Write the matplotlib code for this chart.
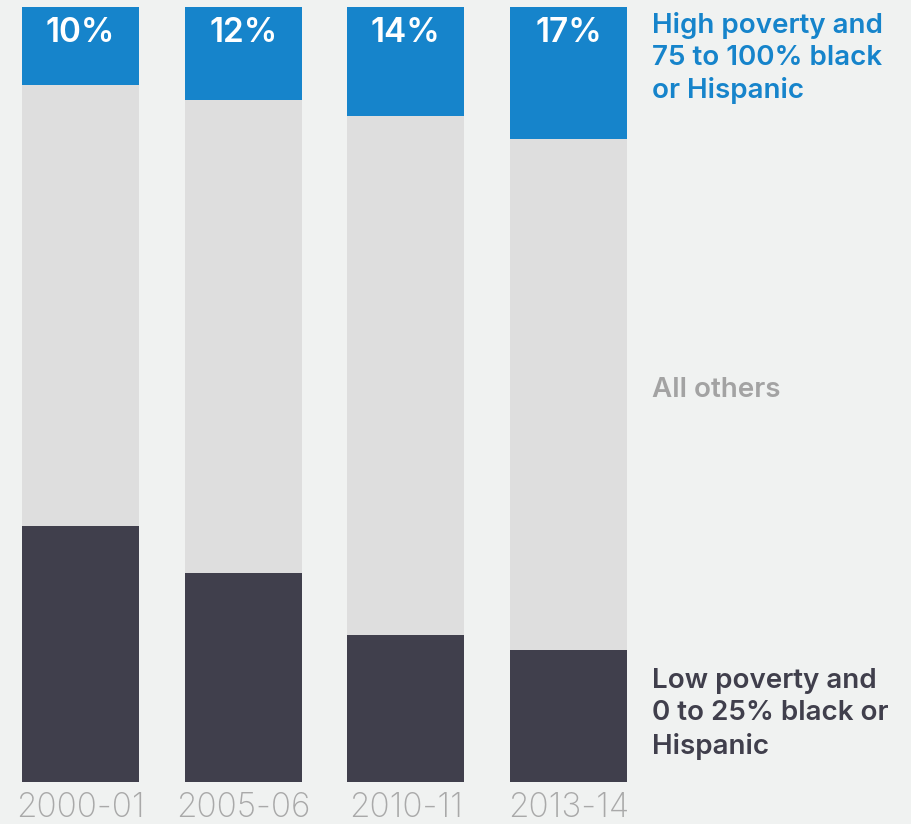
import numpy as np
import matplotlib
matplotlib.use("Agg")
import matplotlib.pyplot as plt

years = ["2000-01", "2005-06", "2010-11", "2013-14"]
high_poverty = [10, 12, 14, 17]
low_poverty = [33, 27, 19, 17]
all_others = [100 - h - l for h, l in zip(high_poverty, low_poverty)]

BLUE = "#1684cb"
GREY = "#dedede"
DARK = "#403f4c"
BG = "#f0f2f1"

plt.rcParams["font.family"] = ["Inter", "DejaVu Sans"]

fig = plt.figure(figsize=(9.11, 8.24), dpi=100)
fig.patch.set_facecolor(BG)

W, H = 911.0, 824.0
ax = fig.add_axes([22 / W, 42 / H, 605 / W, 775 / H])
ax.set_facecolor(BG)

x = np.arange(len(years))
width = 0.72
ax.bar(x, low_poverty, width, color=DARK)
ax.bar(x, all_others, width, bottom=low_poverty, color=GREY)
bottom_hp = [l + o for l, o in zip(low_poverty, all_others)]
ax.bar(x, high_poverty, width, bottom=bottom_hp, color=BLUE)

for xi, v in zip(x, high_poverty):
    ax.text(xi, 100 - 3.4, "{}%".format(v), ha="center", va="center",
            color="white", fontsize=24, fontweight="semibold")

ax.set_xlim(-width / 2, len(years) - 1 + width / 2)
ax.set_ylim(0, 100)
ax.set_xticks(x)
ax.set_xticklabels(years, fontsize=24, color="#a9a9a9", fontweight="light")
ax.tick_params(axis="x", length=0, pad=7)
ax.set_yticks([])
for s in ax.spines.values():
    s.set_visible(False)

# category labels to the right of the last bar
fig.text(652 / W, 1 - 58 / H, "High poverty and\n75 to 100% black\nor Hispanic",
         ha="left", va="center", color=BLUE, fontsize=20, fontweight="semibold",
         linespacing=1.3)
fig.text(652 / W, 1 - 390 / H, "All others", ha="left", va="center",
         color="#a3a3a3", fontsize=20, fontweight="semibold")
fig.text(652 / W, 1 - 714 / H, "Low poverty and\n0 to 25% black or\nHispanic",
         ha="left", va="center", color=DARK, fontsize=20, fontweight="semibold",
         linespacing=1.3)

fig.savefig("out.png", dpi=100, facecolor=BG)
